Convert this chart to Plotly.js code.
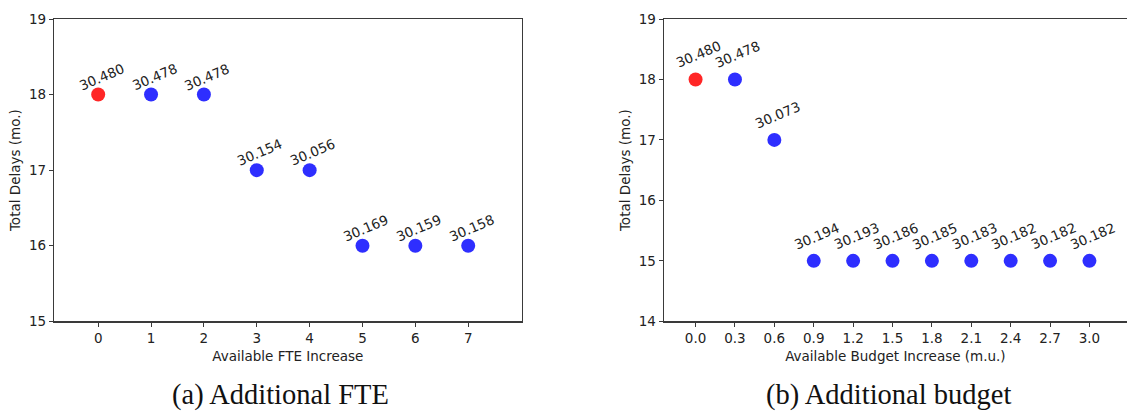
<!DOCTYPE html>
<html>
<head>
<meta charset="utf-8">
<script src="https://cdn.plot.ly/plotly-3.0.1.min.js"></script>
<style>html,body{margin:0;padding:0;background:#fff;}#chart{width:1127px;height:413px;}</style>
</head>
<body>
<div id="chart"></div>
<script>
// (a) Additional FTE
var fteX = [0, 1, 2, 3, 4, 5, 6, 7];
var fteDelays = [18, 18, 18, 17, 17, 16, 16, 16];
var fteLabels = ["30.480", "30.478", "30.478", "30.154", "30.056", "30.169", "30.159", "30.158"];
var fteTicks = ["0", "1", "2", "3", "4", "5", "6", "7"];

// (b) Additional budget
var budgetX = [0.0, 0.3, 0.6, 0.9, 1.2, 1.5, 1.8, 2.1, 2.4, 2.7, 3.0];
var budgetDelays = [18, 18, 17, 15, 15, 15, 15, 15, 15, 15, 15];
var budgetLabels = ["30.480", "30.478", "30.073", "30.194", "30.193", "30.186", "30.185", "30.183", "30.182", "30.182", "30.182"];
var budgetTicks = ["0.0", "0.3", "0.6", "0.9", "1.2", "1.5", "1.8", "2.1", "2.4", "2.7", "3.0"];

var captions = ["(a) Additional FTE", "(b) Additional budget"];

var RED = "rgba(255,0,0,0.85)";
var BLUE = "rgba(0,0,255,0.82)";
function colors(n) { var c = []; for (var i = 0; i < n; i++) c.push(i === 0 ? RED : BLUE); return c; }

var W = 1127, H = 413;
var tickFont = {family: "DejaVu Sans", size: 13.5, color: "#222"};
var lineCol = "#3a3a3a";

var traces = [
  {x: fteX, y: fteDelays, type: "scatter", mode: "markers", xaxis: "x", yaxis: "y",
   marker: {size: 14, color: colors(fteX.length), line: {width: 0}}, hoverinfo: "none"},
  {x: budgetX, y: budgetDelays, type: "scatter", mode: "markers", xaxis: "x2", yaxis: "y2",
   marker: {size: 14, color: colors(budgetX.length), line: {width: 0}}, hoverinfo: "none"}
];

var annotations = [];
fteX.forEach(function (xv, i) {
  annotations.push({x: xv, y: fteDelays[i], xref: "x", yref: "y", text: fteLabels[i], showarrow: false,
    textangle: -23, xshift: 3, yshift: 18, font: {family: "DejaVu Sans", size: 13.5, color: "#222"}});
});
budgetX.forEach(function (xv, i) {
  annotations.push({x: xv, y: budgetDelays[i], xref: "x2", yref: "y2", text: budgetLabels[i], showarrow: false,
    textangle: -23, xshift: 3, yshift: 25, font: {family: "DejaVu Sans", size: 13.5, color: "#222"}});
});
annotations.push({x: 280.6 / W, y: 0, xref: "paper", yref: "paper", text: captions[0], showarrow: false,
  xanchor: "center", yanchor: "bottom", font: {family: "Liberation Serif", size: 28.5, color: "#111"}});
annotations.push({x: 888 / W, y: 0, xref: "paper", yref: "paper", text: captions[1], showarrow: false,
  xanchor: "center", yanchor: "bottom", font: {family: "Liberation Serif", size: 28.5, color: "#111"}});

function xAxis(domain, range, vals, text, title, anchor) {
  return {domain: domain, range: range, anchor: anchor, tickmode: "array", tickvals: vals, ticktext: text,
    showgrid: false, zeroline: false, showline: true, linecolor: lineCol, linewidth: 1.2, mirror: true,
    ticks: "outside", ticklen: 4, tickwidth: 1, tickcolor: lineCol, tickfont: tickFont,
    title: {text: title, font: tickFont, standoff: 6}, automargin: false};
}
function yAxis(domain, range, vals, title, anchor, mirror) {
  return {domain: domain, range: range, anchor: anchor, tickmode: "array", tickvals: vals,
    showgrid: false, zeroline: false, showline: true, linecolor: lineCol, linewidth: 1.2, mirror: mirror,
    ticks: "outside", ticklen: 4, tickwidth: 1, tickcolor: lineCol, tickfont: tickFont,
    title: {text: title, font: tickFont, standoff: 5}, automargin: false};
}

var yDom = [1 - 321.3 / H, 1 - 19 / H];
var layout = {
  width: W, height: H, margin: {l: 0, r: 0, t: 0, b: 0},
  paper_bgcolor: "#fff", plot_bgcolor: "#fff", showlegend: false,
  xaxis: xAxis([54 / W, 521.7 / W], [-0.836, 8.012], fteX, fteTicks, "Available FTE Increase", "y"),
  yaxis: yAxis(yDom, [15, 19], [15, 16, 17, 18, 19], "Total Delays (mo.)", "x", true),
  xaxis2: xAxis([663.8 / W, 1], [-0.242, 3.286], budgetX, budgetTicks, "Available Budget Increase (m.u.)", "y2"),
  yaxis2: yAxis(yDom, [14, 19], [14, 15, 16, 17, 18, 19], "Total Delays (mo.)", "x2", false),
  annotations: annotations
};

Plotly.newPlot("chart", traces, layout, {staticPlot: true, displayModeBar: false});
</script>
</body>
</html>
